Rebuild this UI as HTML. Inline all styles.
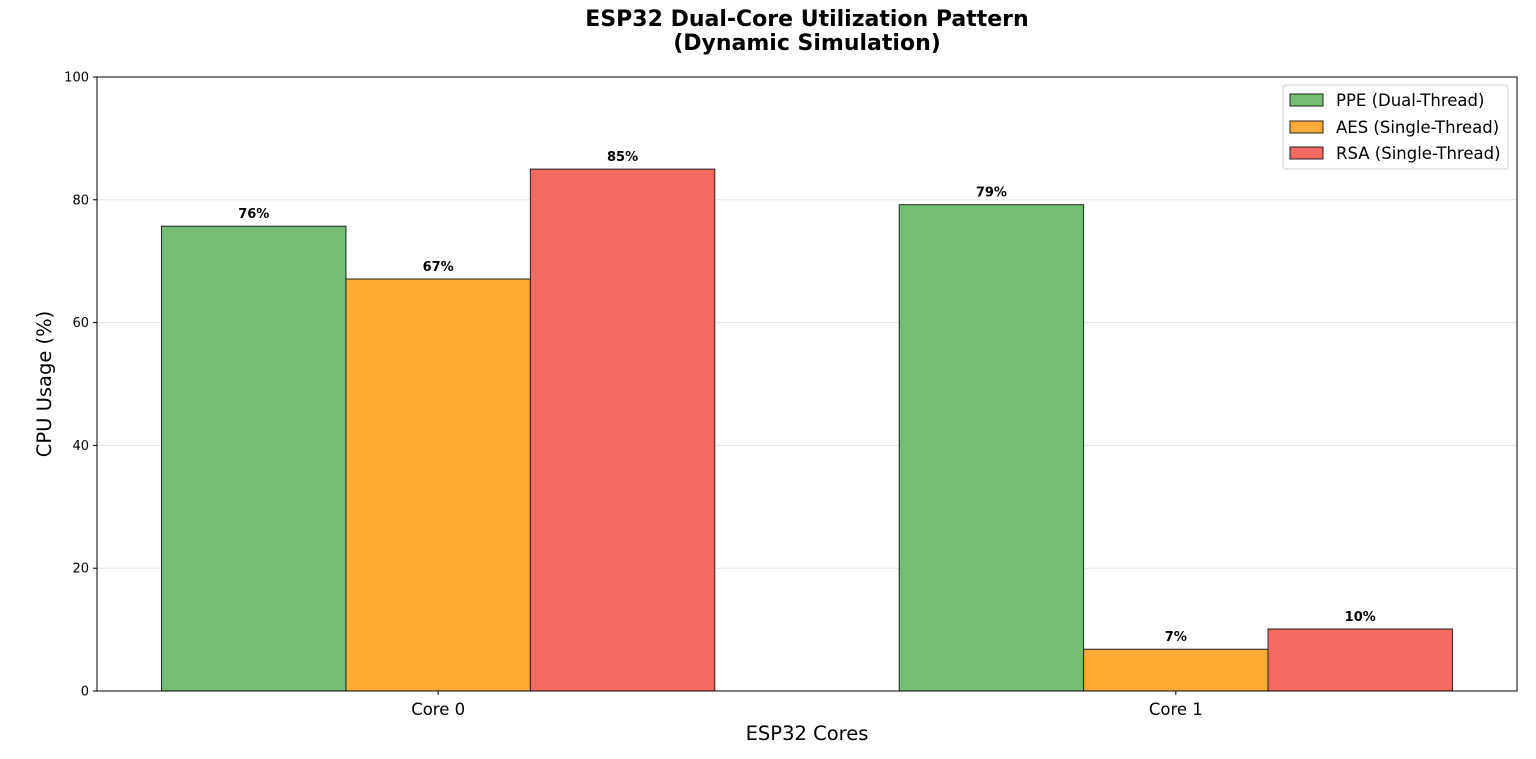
<!DOCTYPE html>
<html><head><meta charset="utf-8"><style>
body{margin:0;background:#fff;font-family:"Liberation Sans","DejaVu Sans",sans-serif}
svg text{font-family:"DejaVu Sans","Liberation Sans",sans-serif}
</style></head><body>
<svg id="chart" width="1536" height="754" xmlns="http://www.w3.org/2000/svg">
<text x="807" y="26" text-anchor="middle" font-size="22" font-weight="bold">ESP32 Dual-Core Utilization Pattern</text>
<text x="807" y="50" text-anchor="middle" font-size="22" font-weight="bold">(Dynamic Simulation)</text>
<g id="grid"></g><g id="bars"></g><g id="labels"></g><g id="axes"></g>
<text x="807" y="740" text-anchor="middle" font-size="19.5">ESP32 Cores</text>
<text transform="translate(51,384) rotate(-90)" text-anchor="middle" font-size="19.5">CPU Usage (%)</text>
<g>
<rect x="1283" y="85" width="225" height="84" rx="3" fill="#fff" stroke="#ccc"/>
<g><rect x="1290" y="94" width="33" height="12" fill="#72bf74" stroke="#222"/><text x="1336" y="106" font-size="16.5">PPE (Dual-Thread)</text></g>
<g><rect x="1290" y="121" width="33" height="12" fill="#ffab35" stroke="#222"/><text x="1336" y="133" font-size="16.5">AES (Single-Thread)</text></g>
<g><rect x="1290" y="147" width="33" height="12" fill="#f46b61" stroke="#222"/><text x="1336" y="159" font-size="16.5">RSA (Single-Thread)</text></g>
</g>
</svg>
<script>
const categories=["Core 0","Core 1"];
const seriesNames=["PPE (Dual-Thread)","AES (Single-Thread)","RSA (Single-Thread)"];
const ppe=[75.7,79.2];
const aes=[67.1,6.8];
const rsa=[85.0,10.1];
const yTicks=[0,20,40,60,80,100];
const NS="http://www.w3.org/2000/svg";
const L=97,R=1517,T=77,B=691;
const xs=v=>L+(v+0.4625)/(1.925)*(R-L);
const ys=v=>B-v/100*(B-T);
const g=id=>document.getElementById(id);
function mk(t,a,p){const e=document.createElementNS(NS,t);for(const k in a)e.setAttribute(k,a[k]);p.appendChild(e);return e;}
yTicks.forEach(t=>{
 if(t>0&&t<100){const l=mk('line',{x1:L,x2:R,y1:ys(t),y2:ys(t),stroke:'#e5e5e5'},g('grid'));
 
 }
 const tk=mk('line',{x1:L-4,x2:L,y1:ys(t),y2:ys(t),stroke:'#000'},g('axes'));
 
 
 const tx=mk('text',{x:L-8,y:ys(t)+4.5,'text-anchor':'end','font-size':'13'},g('axes'));tx.textContent=t;
 
 
});
const series=[ppe,aes,rsa],colors=['#72bf74','#ffab35','#f46b61'],w=0.25,keys=['ppe','aes','rsa'];
series.forEach((s,i)=>s.forEach((v,j)=>{
 const c=j+(i-1)*w;
 const r=mk('rect',{x:xs(c-w/2),y:ys(v),width:xs(c+w/2)-xs(c-w/2),height:B-ys(v),fill:colors[i],stroke:'#222','stroke-width':1},g('bars'));
 
 
 const tx=mk('text',{x:xs(c),y:ys(v)-8,'text-anchor':'middle','font-size':'13','font-weight':'bold'},g('labels'));
 tx.textContent=Math.round(v)+'%';
 
 
}));
categories.forEach((c,j)=>{
 const tk=mk('line',{x1:xs(j),x2:xs(j),y1:B,y2:B+4,stroke:'#000'},g('axes'));
 
 
 const tx=mk('text',{x:xs(j),y:B+24,'text-anchor':'middle','font-size':'16.5'},g('axes'));tx.textContent=c;
 
 
});
const fr=mk('rect',{x:L,y:T,width:R-L,height:B-T,fill:'none',stroke:'#000'},g('axes'));


</script>
</body></html>
